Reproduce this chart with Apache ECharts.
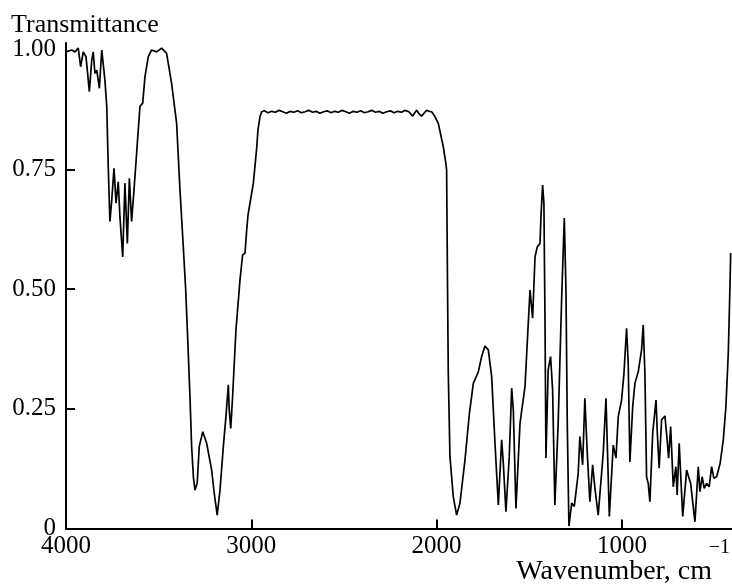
<!DOCTYPE html>
<html>
<head>
<meta charset="utf-8">
<script src="https://cdn.jsdelivr.net/npm/echarts@6/dist/echarts.min.js"></script>
<style>
html,body{margin:0;padding:0;background:#fff;}
#chart{width:732px;height:585px;}
</style>
</head>
<body>
<div id="chart"></div>
<script>
// Wavenumber (cm^-1) and transmittance
var wavenumbers = [
4000,3996,3969,3951,3934,3921,3907,3892,3874,3861,3853,3844,3834,3820,3807,3790,3780,3772,3763,3753,
3741,3730,3718,3709,3694,3682,3669,3658,3646,3633,3619,3601,3586,3574,3556,3538,3511,3484,3457,3430,
3403,3385,3366,3354,3345,3331,3322,3312,3304,3292,3281,3262,3241,3214,3199,3184,3169,3151,3137,3124,
3119,3111,3101,3083,3061,3047,3034,3025,3018,2989,2971,2964,2953,2944,
2930,2910,2890,2870,2850,2830,2810,2790,2770,2750,2730,2710,2690,2670,2650,2630,2610,2590,2570,2550,
2530,2510,2490,2470,2450,2430,2410,2390,2370,2350,2330,2310,2290,2270,2250,2230,2210,2190,2170,2150,
2140,2129,2118,2108,2095,2081,2068,2054,2040,2027,2009,1991,1964,1950,1946,1941,1937,1928,1910,1892,
1874,1847,1824,1802,1775,1757,1739,1721,1703,1685,1667,1649,1640,1626,1608,1595,1586,1572,1550,1523,
1511,1496,1482,1469,1457,1442,1437,1428,1421,1415,1410,1398,1385,1374,1362,1344,1325,1311,1302,1295,
1286,1271,1257,1236,1227,1212,1200,1187,1173,1158,1146,1128,1101,1086,1068,1047,1032,1020,1002,989,
975,966,957,942,930,912,894,885,876,867,858,849,834,816,809,799,786,768,756,748,
737,723,709,702,691,672,651,629,606,588,579,567,556,543,529,516,504,489,470,453,
439,426,417,413
];
var transmittance = [
0.995,0.992,0.999,0.995,1.003,0.964,0.995,0.985,0.912,0.978,0.995,0.950,0.957,0.919,0.999,0.936,0.881,0.755,0.641,0.686,
0.752,0.679,0.724,0.651,0.567,0.721,0.595,0.731,0.641,0.707,0.783,0.881,0.888,0.943,0.985,0.999,0.995,1.003,0.992,0.929,
0.846,0.707,0.581,0.498,0.414,0.275,0.171,0.105,0.080,0.095,0.171,0.202,0.178,0.122,0.070,0.028,0.080,0.171,0.233,0.300,
0.247,0.209,0.275,0.414,0.519,0.571,0.575,0.623,0.654,0.721,0.794,0.832,0.860,0.870,
0.872,0.868,0.871,0.869,0.873,0.870,0.867,0.871,0.869,0.872,0.868,0.870,0.873,0.869,0.871,0.867,0.870,0.872,0.868,0.871,
0.869,0.873,0.870,0.867,0.871,0.869,0.872,0.868,0.870,0.873,0.869,0.871,0.867,0.870,0.872,0.868,0.871,0.869,0.873,0.870,
0.868,0.861,0.868,0.873,0.866,0.861,0.867,0.873,0.871,0.870,0.860,0.846,0.797,0.762,0.748,0.498,0.324,0.150,0.066,0.028,
0.053,0.143,0.237,0.303,0.327,0.359,0.381,0.373,0.317,0.178,0.049,0.185,0.136,0.035,0.150,0.293,0.247,0.042,0.220,0.296,
0.387,0.498,0.439,0.567,0.588,0.595,0.651,0.717,0.679,0.428,0.147,0.331,0.359,0.289,0.049,0.220,0.484,0.648,0.498,0.220,
0.005,0.053,0.046,0.115,0.192,0.133,0.272,0.157,0.056,0.133,0.085,0.028,0.157,0.272,0.025,0.174,0.147,0.233,0.268,0.324,
0.418,0.345,0.139,0.254,0.303,0.327,0.373,0.425,0.324,0.108,0.094,0.056,0.199,0.268,0.199,0.126,0.227,0.235,0.185,0.147,
0.213,0.087,0.129,0.070,0.178,0.025,0.122,0.094,0.014,0.129,0.077,0.108,0.084,0.094,0.087,0.129,0.105,0.108,0.136,0.185,
0.254,0.366,0.505,0.575
];
var xLabelValues = [4000, 3000, 2000, 1000];
var xTickValues = [3000, 2000, 1000];
var yLabelValues = [0, 0.25, 0.5, 0.75, 1.0];
var yTickValues = [0.25, 0.5, 0.75];

var points = wavenumbers.map(function (w, i) { return [w, transmittance[i]]; });
var FONT = "'Liberation Serif','Times New Roman',serif";

var chart = echarts.init(document.getElementById('chart'), null, {renderer: 'canvas'});
chart.setOption({
  animation: false,
  backgroundColor: '#ffffff',
  title: [
    {text: 'Transmittance', left: 11, top: 12, padding: 0,
     textStyle: {fontFamily: FONT, fontSize: 26, fontWeight: 'normal', color: '#000'}},
    {text: 'Wavenumber, cm', right: 20, top: 558, padding: 0,
     textStyle: {fontFamily: FONT, fontSize: 28, fontWeight: 'normal', color: '#000'}},
    {text: '\u22121', right: 2, top: 538, padding: 0,
     textStyle: {fontFamily: FONT, fontSize: 20, fontWeight: 'normal', color: '#000'}}
  ],
  grid: {left: 66, right: 0, top: 43, bottom: 56.5, containLabel: false},
  xAxis: {
    type: 'value', inverse: true, min: 406, max: 4000,
    splitLine: {show: false},
    axisLine: {show: true, onZero: false, lineStyle: {color: '#000', width: 2}},
    axisTick: {show: true, inside: true, length: 9, customValues: xTickValues,
               lineStyle: {color: '#000', width: 2}},
    axisLabel: {show: true, customValues: xLabelValues, margin: 5,
                fontFamily: FONT, fontSize: 25, color: '#000',
                formatter: function (v) { return String(v); }}
  },
  yAxis: {
    type: 'value', min: 0, max: 1.0136,
    splitLine: {show: false},
    axisLine: {show: true, lineStyle: {color: '#000', width: 2}},
    axisTick: {show: true, inside: true, length: 9, customValues: yTickValues,
               lineStyle: {color: '#000', width: 2}},
    axisLabel: {show: true, customValues: yLabelValues, margin: 10,
                fontFamily: FONT, fontSize: 25, color: '#000',
                formatter: function (v) { return v === 0 ? '0' : v.toFixed(2); }}
  },
  series: [{
    type: 'line', data: points, showSymbol: false, symbol: 'none', smooth: false,
    lineStyle: {color: '#000', width: 1.7}, clip: true
  }]
});
</script>
</body>
</html>
